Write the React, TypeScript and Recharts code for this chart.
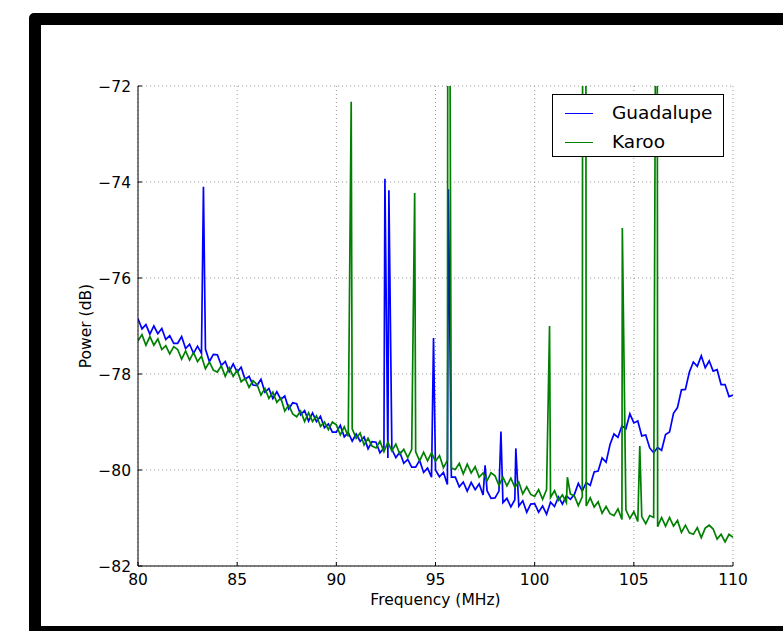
import { CartesianGrid, Label, Legend, Line, LineChart, XAxis, YAxis } from "recharts";

// 0.2 MHz grid (dB)
const frequencyGrid = [
  80.0, 80.2, 80.4, 80.6, 80.8, 81.0, 81.2, 81.4, 81.6, 81.8,
  82.0, 82.2, 82.4, 82.6, 82.8, 83.0, 83.2, 83.4, 83.6, 83.8,
  84.0, 84.2, 84.4, 84.6, 84.8, 85.0, 85.2, 85.4, 85.6, 85.8,
  86.0, 86.2, 86.4, 86.6, 86.8, 87.0, 87.2, 87.4, 87.6, 87.8,
  88.0, 88.2, 88.4, 88.6, 88.8, 89.0, 89.2, 89.4, 89.6, 89.8,
  90.0, 90.2, 90.4, 90.6, 90.8, 91.0, 91.2, 91.4, 91.6, 91.8,
  92.0, 92.2, 92.4, 92.6, 92.8, 93.0, 93.2, 93.4, 93.6, 93.8,
  94.0, 94.2, 94.4, 94.6, 94.8, 95.0, 95.2, 95.4, 95.6, 95.8,
  96.0, 96.2, 96.4, 96.6, 96.8, 97.0, 97.2, 97.4, 97.6, 97.8,
  98.0, 98.2, 98.4, 98.6, 98.8, 99.0, 99.2, 99.4, 99.6, 99.8,
  100.0, 100.2, 100.4, 100.6, 100.8, 101.0, 101.2, 101.4, 101.6, 101.8,
  102.0, 102.2, 102.4, 102.6, 102.8, 103.0, 103.2, 103.4, 103.6, 103.8,
  104.0, 104.2, 104.4, 104.6, 104.8, 105.0, 105.2, 105.4, 105.6, 105.8,
  106.0, 106.2, 106.4, 106.6, 106.8, 107.0, 107.2, 107.4, 107.6, 107.8,
  108.0, 108.2, 108.4, 108.6, 108.8, 109.0, 109.2, 109.4, 109.6, 109.8,
  110.0,
];

const guadalupePower = [
  -76.85, -77.06, -76.97, -77.17, -77.0, -77.16, -77.05, -77.28, -77.2, -77.36,
  -77.36, -77.22, -77.47, -77.38, -77.57, -77.42, -77.57, -77.48, -77.74, -77.59,
  -77.6, -77.82, -77.74, -77.95, -77.79, -77.96, -77.86, -78.11, -78.05, -78.23,
  -78.24, -78.11, -78.38, -78.3, -78.51, -78.37, -78.53, -78.46, -78.73, -78.6,
  -78.62, -78.85, -78.76, -78.98, -78.81, -78.99, -78.88, -79.12, -79.04, -79.21,
  -79.21, -79.07, -79.31, -79.22, -79.4, -79.25, -79.4, -79.31, -79.56, -79.41,
  -79.42, -79.64, -79.54, -79.75, -79.57, -79.74, -79.63, -79.86, -79.78, -79.94,
  -79.94, -79.8, -80.05, -79.96, -80.15, -80.0, -80.14, -80.05, -80.3, -80.15,
  -80.15, -80.35, -80.25, -80.44, -80.26, -80.41, -80.29, -80.52, -80.43, -80.59,
  -80.58, -80.44, -80.68, -80.59, -80.77, -80.62, -80.75, -80.64, -80.88, -80.71,
  -80.7, -80.88, -80.75, -80.92, -80.67, -80.76, -80.56, -80.71, -80.54, -80.61,
  -80.51, -80.28, -80.44, -80.26, -80.32, -80.04, -80.02, -79.75, -79.84, -79.47,
  -79.25, -79.32, -79.08, -79.14, -78.83, -79.02, -78.98, -79.29, -79.27, -79.54,
  -79.64, -79.53, -79.59, -79.26, -79.21, -78.82, -78.7, -78.33, -78.32, -77.96,
  -77.75, -77.84, -77.62, -77.87, -77.73, -77.94, -77.91, -78.22, -78.22, -78.47,
  -78.44,
];

const karooPower = [
  -77.31, -77.18, -77.4, -77.22, -77.4, -77.27, -77.49, -77.41, -77.58, -77.43,
  -77.49, -77.69, -77.52, -77.71, -77.55, -77.74, -77.63, -77.89, -77.75, -77.92,
  -77.96, -77.83, -78.05, -77.87, -78.05, -77.92, -78.16, -78.09, -78.28, -78.14,
  -78.22, -78.44, -78.3, -78.51, -78.38, -78.59, -78.5, -78.77, -78.65, -78.83,
  -78.89, -78.77, -78.99, -78.81, -78.99, -78.87, -79.09, -79.0, -79.16, -79.0,
  -79.06, -79.27, -79.1, -79.3, -79.14, -79.34, -79.23, -79.48, -79.34, -79.5,
  -79.54, -79.4, -79.62, -79.42, -79.6, -79.46, -79.67, -79.57, -79.74, -79.57,
  -79.62, -79.81, -79.63, -79.81, -79.64, -79.82, -79.7, -79.95, -79.8, -79.96,
  -79.99, -79.86, -80.08, -79.88, -80.06, -79.93, -80.15, -80.06, -80.22, -80.06,
  -80.12, -80.32, -80.15, -80.33, -80.17, -80.36, -80.25, -80.5, -80.35, -80.51,
  -80.55, -80.41, -80.61, -80.41, -80.57, -80.43, -80.63, -80.52, -80.68, -80.5,
  -80.54, -80.74, -80.56, -80.75, -80.58, -80.77, -80.66, -80.9, -80.76, -80.91,
  -80.95, -80.81, -81.03, -80.83, -81.01, -80.87, -81.07, -80.97, -81.12, -80.95,
  -80.99, -81.18, -80.99, -81.17, -80.99, -81.17, -81.05, -81.3, -81.15, -81.31,
  -81.34, -81.2, -81.41, -81.21, -81.15, -81.23, -81.44, -81.34, -81.5, -81.34,
  -81.4,
];

// narrow carriers; peaks above -72 run off the top of the plot
const guadalupeSpikeFreq = [83.3, 92.45, 92.65, 94.9, 95.65, 97.5, 98.3, 99.05];
const guadalupeSpikePower = [-74.1, -73.93, -74.17, -77.25, -74.15, -79.9, -79.2, -79.55];

const karooSpikeFreq = [90.75, 93.95, 95.62, 95.72, 100.75, 101.65, 102.42, 102.58, 104.42, 105.3, 106.1, 106.18];
const karooSpikePower = [-72.33, -74.23, -70, -70, -77.0, -80.15, -70, -70, -74.96, -79.5, -70, -70];

const freqTicks = [80, 85, 90, 95, 100, 105, 110];
const powerTicks = [-82, -80, -78, -76, -74, -72];

const seriesNames = ["Guadalupe", "Karoo"];
const seriesColors = ["#0000ff", "#008000"];

const FONT = "'DejaVu Sans', sans-serif";

type Point = { freq: number; power: number };

function buildSeries(base: number[], spikeFreq: number[], spikePower: number[]): Point[] {
  const pts = frequencyGrid.map((freq, i) => ({ freq, power: base[i] }));
  spikeFreq.forEach((freq, i) => pts.push({ freq, power: spikePower[i] }));
  return pts.sort((a, b) => a.freq - b.freq);
}

const guadalupe = buildSeries(guadalupePower, guadalupeSpikeFreq, guadalupeSpikePower);
const karoo = buildSeries(karooPower, karooSpikeFreq, karooSpikePower);

const minus = (v: number) => String(v).replace("-", "\u2212");

const tickStyle = { fill: "#000", fontSize: 15.5, fontFamily: FONT };

function LegendBox() {
  return (
    <div
      style={{
        position: "relative",
        width: 170,
        height: 61,
        border: "1px solid #000",
        background: "#fff",
        fontFamily: FONT,
        fontSize: 18.5,
        color: "#000",
      }}
    >
      {seriesNames.map((name, i) => (
        <div
          key={name}
          style={{ position: "absolute", left: 0, top: 4 + i * 29, height: 28, display: "flex", alignItems: "center" }}
        >
          <span style={{ display: "inline-block", marginLeft: 12, width: 28, borderTop: `1px solid ${seriesColors[i]}` }} />
          <span style={{ marginLeft: 19, lineHeight: "28px" }}>{name}</span>
        </div>
      ))}
    </div>
  );
}

export default function App() {
  return (
    <div style={{ position: "absolute", left: 0, top: 0, width: 783, height: 631, background: "#fff", overflow: "hidden" }}>
      <LineChart width={783} height={631} margin={{ top: 86, right: 50, bottom: 0, left: 0 }}>
        <CartesianGrid stroke="#999" strokeDasharray="1 3" />
        <XAxis
          dataKey="freq"
          type="number"
          domain={[80, 110]}
          ticks={freqTicks}
          allowDataOverflow
          height={65}
          tick={tickStyle}
          tickSize={-4}
          tickMargin={12}
          interval={0}
          axisLine={{ stroke: "#000" }}
          tickLine={{ stroke: "#000" }}
        >
          <Label
            content={({ viewBox }: any) => (
              <text
                x={viewBox.x + viewBox.width / 2}
                y={viewBox.y + 34}
                textAnchor="middle"
                dominantBaseline="middle"
                fontFamily={FONT}
                fontSize={15.5}
                fill="#000"
              >
                Frequency (MHz)
              </text>
            )}
          />
        </XAxis>
        <XAxis
          xAxisId="top"
          orientation="top"
          dataKey="freq"
          type="number"
          domain={[80, 110]}
          ticks={freqTicks}
          allowDataOverflow
          height={0}
          tickSize={-4}
          tickFormatter={() => ""}
          interval={0}
          axisLine={{ stroke: "#000" }}
          tickLine={{ stroke: "#000" }}
        />
        <YAxis
          type="number"
          domain={[-82, -72]}
          ticks={powerTicks}
          allowDataOverflow
          width={138}
          tick={tickStyle}
          tickSize={-4}
          tickMargin={11}
          interval={0}
          tickFormatter={minus}
          axisLine={{ stroke: "#000" }}
          tickLine={{ stroke: "#000" }}
        >
          <Label
            content={({ viewBox }: any) => {
              const cx = viewBox.x + 86;
              const cy = viewBox.y + viewBox.height / 2;
              return (
                <text
                  x={cx}
                  y={cy}
                  transform={`rotate(-90, ${cx}, ${cy})`}
                  textAnchor="middle"
                  dominantBaseline="middle"
                  fontFamily={FONT}
                  fontSize={15.5}
                  fill="#000"
                >
                  Power (dB)
                </text>
              );
            }}
          />
        </YAxis>
        <YAxis
          yAxisId="right"
          orientation="right"
          type="number"
          domain={[-82, -72]}
          ticks={powerTicks}
          allowDataOverflow
          width={0}
          tickSize={-4}
          tickFormatter={() => ""}
          interval={0}
          axisLine={{ stroke: "#000" }}
          tickLine={{ stroke: "#000" }}
        />
        <Legend
          layout="vertical"
          align="center"
          verticalAlign="middle"
          wrapperStyle={{ left: 552, top: 94 }}
          content={() => <LegendBox />}
        />
        <Line
          data={guadalupe}
          dataKey="power"
          name={seriesNames[0]}
          type="linear"
          stroke={seriesColors[0]}
          strokeWidth={1.7}
          dot={false}
          activeDot={false}
          isAnimationActive={false}
        />
        <Line
          data={karoo}
          dataKey="power"
          name={seriesNames[1]}
          type="linear"
          stroke={seriesColors[1]}
          strokeWidth={1.7}
          dot={false}
          activeDot={false}
          isAnimationActive={false}
        />
      </LineChart>
      <div
        style={{
          position: "absolute",
          left: 29,
          top: 13,
          width: 800,
          height: 625,
          border: "12px solid #000",
          borderRadius: 5,
          boxSizing: "border-box",
          pointerEvents: "none",
        }}
      />
    </div>
  );
}
